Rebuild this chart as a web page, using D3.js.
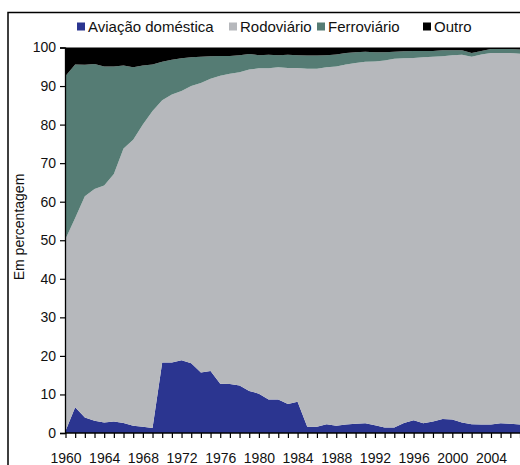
<!DOCTYPE html>
<html>
<head>
<meta charset="utf-8">
<script src="https://cdn.jsdelivr.net/npm/d3@7"></script>
<style>
  html, body { margin: 0; padding: 0; background: #fff; }
  svg { display: block; font-family: "Liberation Sans", Arial, sans-serif; }
</style>
</head>
<body>
<svg id="chart" width="520" height="465"></svg>
<script>
const years = d3.range(1960, 2008);
const seriesNames = ["Aviação doméstica", "Rodoviário", "Ferroviário", "Outro"];
const aviacao = [0.5,6.7,4.0,3.2,2.7,3.0,2.6,1.9,1.6,1.3,18.3,18.3,18.9,18.1,15.7,16.1,12.8,12.7,12.3,10.9,10.2,8.7,8.7,7.5,8.1,1.6,1.6,2.3,1.9,2.2,2.4,2.5,2.0,1.4,1.4,2.6,3.3,2.5,3.0,3.6,3.5,2.7,2.3,2.2,2.2,2.5,2.4,2.2];
const rodoviario = [49.8,49.1,57.4,60.1,61.5,64.2,71.2,74.2,78.4,82.2,68.0,69.5,69.8,71.9,75.1,75.8,79.9,80.5,81.3,83.4,84.4,85.9,86.2,87.2,86.6,92.9,92.9,92.6,93.2,93.4,93.6,93.8,94.4,95.2,95.7,94.6,94.0,95.0,94.6,94.1,94.5,95.4,95.3,96.0,96.4,96.1,96.2,96.2];
const ferroviario = [42.3,39.8,34.1,32.4,30.9,27.9,21.5,18.8,15.3,12.1,10.0,9.0,8.5,7.5,6.8,5.8,5.1,4.6,4.4,4.0,3.4,3.5,3.1,3.4,3.3,3.4,3.4,3.1,3.1,3.0,2.8,2.6,2.4,2.2,1.8,1.8,1.8,1.6,1.5,1.6,1.3,1.2,1.0,0.9,1.0,1.0,1.0,1.1];
const outro = [7.4,4.4,4.5,4.3,4.9,4.9,4.7,5.1,4.7,4.4,3.7,3.2,2.8,2.5,2.4,2.3,2.2,2.2,2.0,1.7,2.0,1.9,2.0,1.9,2.0,2.1,2.1,2.0,1.8,1.4,1.2,1.1,1.2,1.2,1.1,1.0,0.9,0.9,0.9,0.7,0.7,0.7,1.4,0.9,0.4,0.4,0.4,0.5];
const yTicks = [0,10,20,30,40,50,60,70,80,90,100];
const xLabelYears = [1960,1964,1968,1972,1976,1980,1984,1988,1992,1996,2000,2004];
const colors = ["#2b3590", "#b6b8bc", "#557c74", "#000000"];

const table = years.map((y, i) => ({
  year: y,
  [seriesNames[0]]: aviacao[i],
  [seriesNames[1]]: rodoviario[i],
  [seriesNames[2]]: ferroviario[i],
  [seriesNames[3]]: outro[i]
}));

const svg = d3.select("#chart");

// outer frame
svg.append("rect").attr("x", 8).attr("y", 12.5).attr("width", 600).attr("height", 600)
  .attr("fill", "none").attr("stroke", "#000").attr("stroke-width", 1.5);

const x = d3.scaleLinear().domain([1960, 2007]).range([65.5, 520]);
const y = d3.scaleLinear().domain([0, 100]).range([433, 47.5]);

const stack = d3.stack().keys(seriesNames);
const layers = stack(table);

const area = d3.area()
  .x(d => x(d.data.year))
  .y0(d => y(d[0]))
  .y1(d => y(Math.min(100, d[1])));

svg.append("g").selectAll("path").data(layers).join("path")
  .attr("d", area)
  .attr("fill", (d, i) => colors[i]);

// Y axis
const yAxis = d3.axisLeft(y).tickValues(yTicks).tickSize(5).tickPadding(4);
const gy = svg.append("g").attr("transform", "translate(65,0)").call(yAxis);
gy.select(".domain").attr("stroke", "#000").attr("stroke-width", 1.3);
gy.selectAll(".tick line").attr("stroke", "#000").attr("stroke-width", 1.2);
gy.selectAll(".tick text").attr("font-size", 14).attr("fill", "#111")
  .attr("font-family", "Liberation Sans, Arial, sans-serif");

// X axis
const xAxis = d3.axisBottom(x).tickValues(years).tickSize(5).tickFormat(d => xLabelYears.includes(d) ? d : "");
const gx = svg.append("g").attr("transform", "translate(0,433)").call(xAxis);
gx.select(".domain").attr("stroke", "#000").attr("stroke-width", 1.3).attr("d", "M65,0H520");
gx.selectAll(".tick line").attr("stroke", "#000").attr("stroke-width", 1.2);
gx.selectAll(".tick text").attr("font-size", 14).attr("fill", "#111").attr("dy", null).attr("y", 30)
  .attr("font-family", "Liberation Sans, Arial, sans-serif");

// Y title
svg.append("text")
  .attr("transform", "translate(24,227) rotate(-90)")
  .attr("text-anchor", "middle")
  .attr("font-size", 14)
  .attr("fill", "#111")
  .text("Em percentagem");

// Legend
const legendX = [77, 229, 317, 423];
const lg = svg.append("g");
seriesNames.forEach((name, i) => {
  lg.append("rect").attr("x", legendX[i]).attr("y", 22.5).attr("width", 8).attr("height", 8).attr("fill", colors[i]);
  lg.append("text").attr("x", legendX[i] + 11).attr("y", 31.5).attr("font-size", 15).attr("fill", "#111").text(name);
});
</script>
</body>
</html>
